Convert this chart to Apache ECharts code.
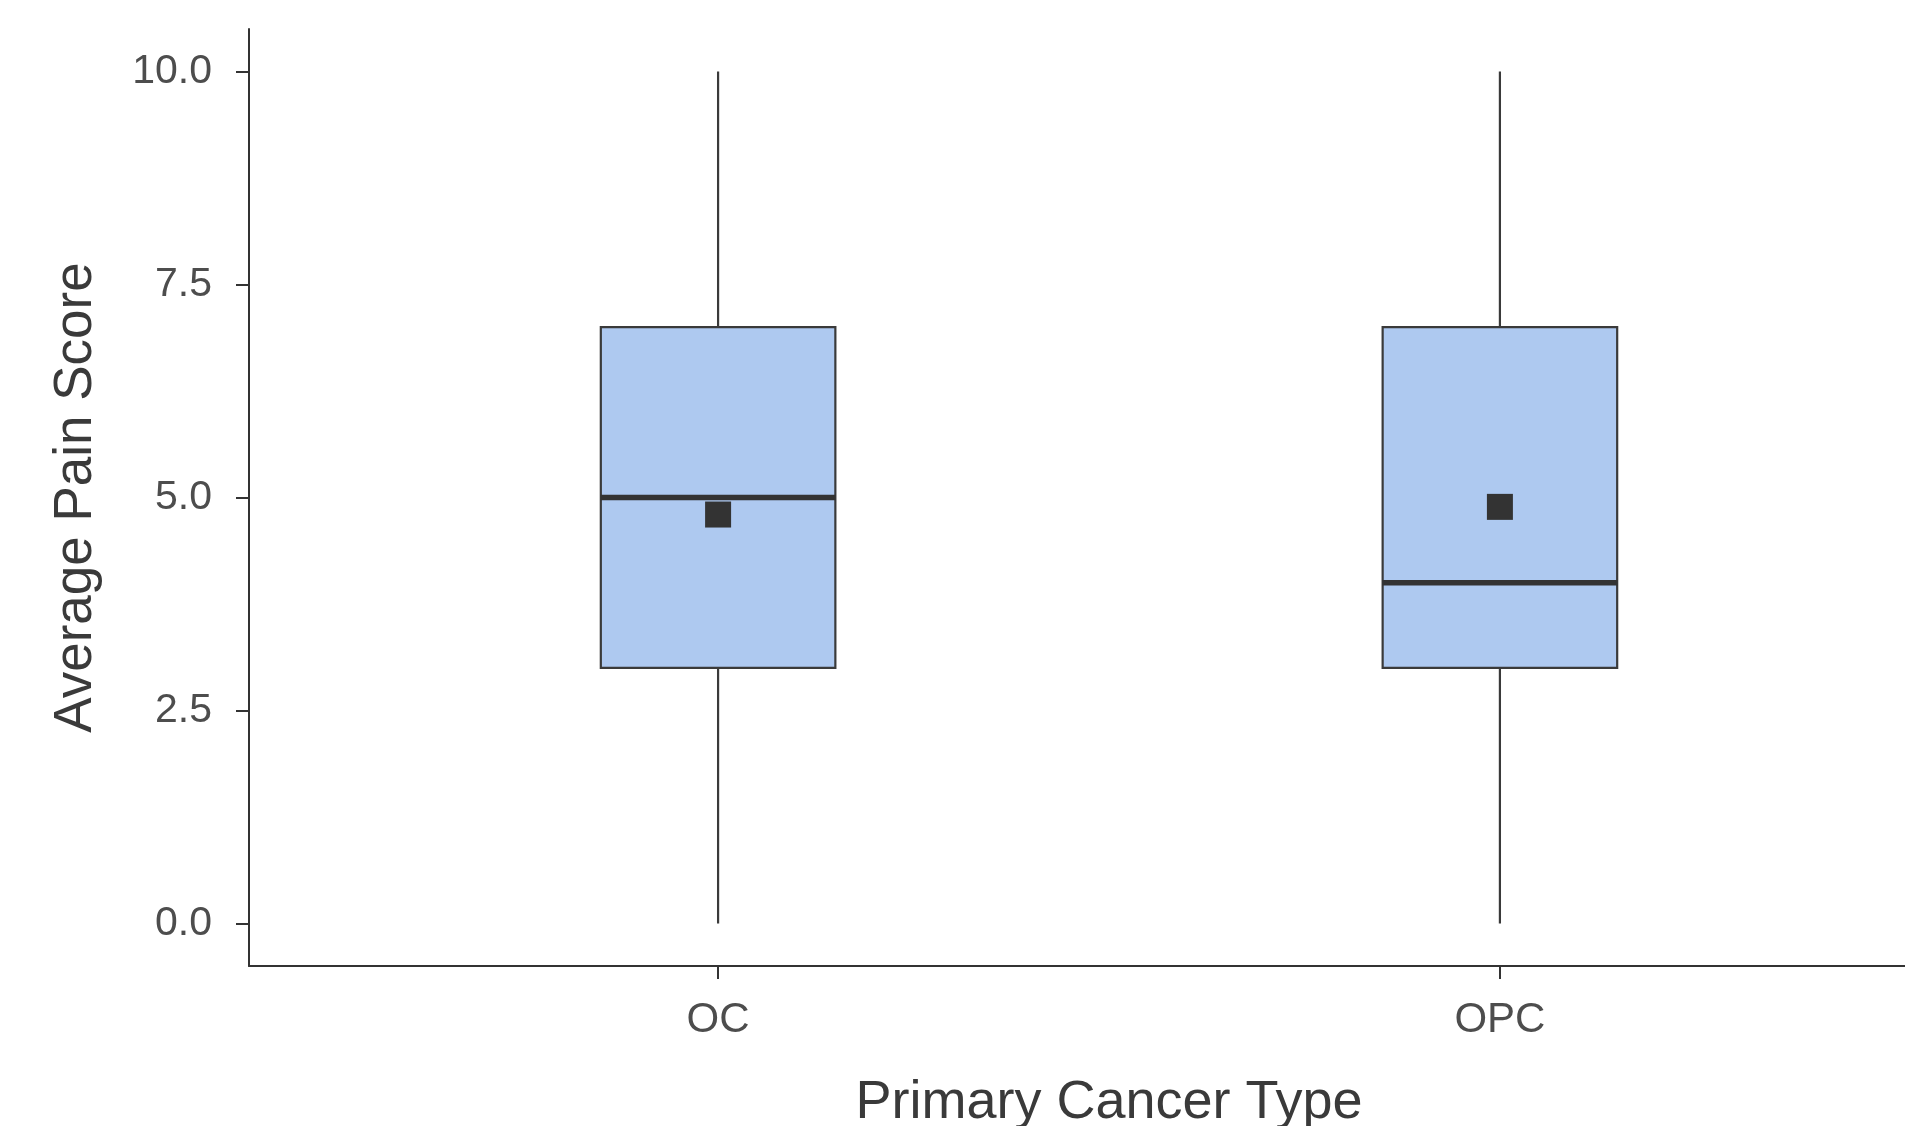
<!DOCTYPE html>
<html><head><meta charset="utf-8">
<script src="https://cdn.jsdelivr.net/npm/echarts@6/dist/echarts.min.js"></script>
<style>html,body{margin:0;padding:0;background:#fff}#c{width:1905px;height:1126px}</style>
</head><body><div id="c"></div>
<script>
const categories = ['OC', 'OPC'];
const whiskerLow = [0, 0];
const q1 = [3, 3];
const median = [5, 4];
const q3 = [7, 7];
const whiskerHigh = [10, 10];
const means = [4.8, 4.89];
const yTicks = [0, 2.5, 5, 7.5, 10];
const yTickLabels = ['0.0', '2.5', '5.0', '7.5', '10.0'];

const xPos = categories.map((c, i) => i + 1);
const boxData = categories.map((c, i) => [xPos[i], whiskerLow[i], q1[i], median[i], q3[i], whiskerHigh[i]]);
const meanData = categories.map((c, i) => [xPos[i], means[i]]);

const BOX_WIDTH = 0.3;
const LINE = '#3a3a3a';
const FONT = '"Liberation Sans", Arial, sans-serif';

const chart = echarts.init(document.getElementById('c'), null, {renderer: 'canvas'});
chart.setOption({
  animation: false,
  backgroundColor: '#fff',
  grid: {left: 249, top: 29, width: 1720, height: 937, containLabel: false, outerBoundsMode: 'none'},
  xAxis: {
    type: 'value', min: 0.4, max: 2.6,
    name: 'Primary Cancer Type', nameLocation: 'middle', nameGap: 110,
    nameTextStyle: {fontFamily: FONT, fontSize: 54, color: '#3a3a3a'},
    axisLine: {show: true, onZero: false, lineStyle: {color: '#333', width: 2}},
    axisTick: {show: true, customValues: xPos, length: 13, lineStyle: {color: '#333', width: 2}},
    axisLabel: {show: true, customValues: xPos, margin: 33, fontFamily: FONT, fontSize: 42, color: '#4d4d4d',
      formatter: v => categories[Math.round(v) - 1]},
    splitLine: {show: false}
  },
  yAxis: {
    type: 'value', min: -0.5, max: 10.5,
    name: 'Average Pain Score', nameLocation: 'middle', nameGap: 146,
    nameTextStyle: {fontFamily: FONT, fontSize: 53, color: '#3a3a3a'},
    axisLine: {show: true, onZero: false, lineStyle: {color: '#333', width: 2}},
    axisTick: {show: true, customValues: yTicks, length: 13, lineStyle: {color: '#333', width: 2}},
    axisLabel: {show: true, customValues: yTicks, margin: 37, fontFamily: FONT, fontSize: 41, color: '#4d4d4d',
      formatter: v => yTickLabels[yTicks.indexOf(v)]},
    splitLine: {show: false}
  },
  series: [
    {
      type: 'custom',
      data: boxData,
      encode: {x: 0, y: [1, 2, 3, 4, 5]},
      renderItem: function (params, api) {
        const x = api.value(0);
        const half = api.size([BOX_WIDTH, 0])[0] / 2;
        const pLow = api.coord([x, api.value(1)]);
        const pQ1 = api.coord([x, api.value(2)]);
        const pMed = api.coord([x, api.value(3)]);
        const pQ3 = api.coord([x, api.value(4)]);
        const pHigh = api.coord([x, api.value(5)]);
        return {
          type: 'group',
          children: [
            {type: 'line', shape: {x1: pHigh[0], y1: pHigh[1], x2: pQ3[0], y2: pQ3[1]}, style: {stroke: LINE, lineWidth: 2.2}},
            {type: 'line', shape: {x1: pQ1[0], y1: pQ1[1], x2: pLow[0], y2: pLow[1]}, style: {stroke: LINE, lineWidth: 2.2}},
            {type: 'rect', shape: {x: pQ3[0] - half, y: pQ3[1], width: half * 2, height: pQ1[1] - pQ3[1]},
              style: {fill: '#aec9f0', stroke: LINE, lineWidth: 2.2}},
            {type: 'line', shape: {x1: pMed[0] - half, y1: pMed[1], x2: pMed[0] + half, y2: pMed[1]},
              style: {stroke: '#333', lineWidth: 5.5}}
          ]
        };
      }
    },
    {
      type: 'scatter',
      data: meanData,
      symbol: 'rect',
      symbolSize: 26,
      itemStyle: {color: '#333', opacity: 1},
      z: 5
    }
  ]
});
</script>
</body></html>
